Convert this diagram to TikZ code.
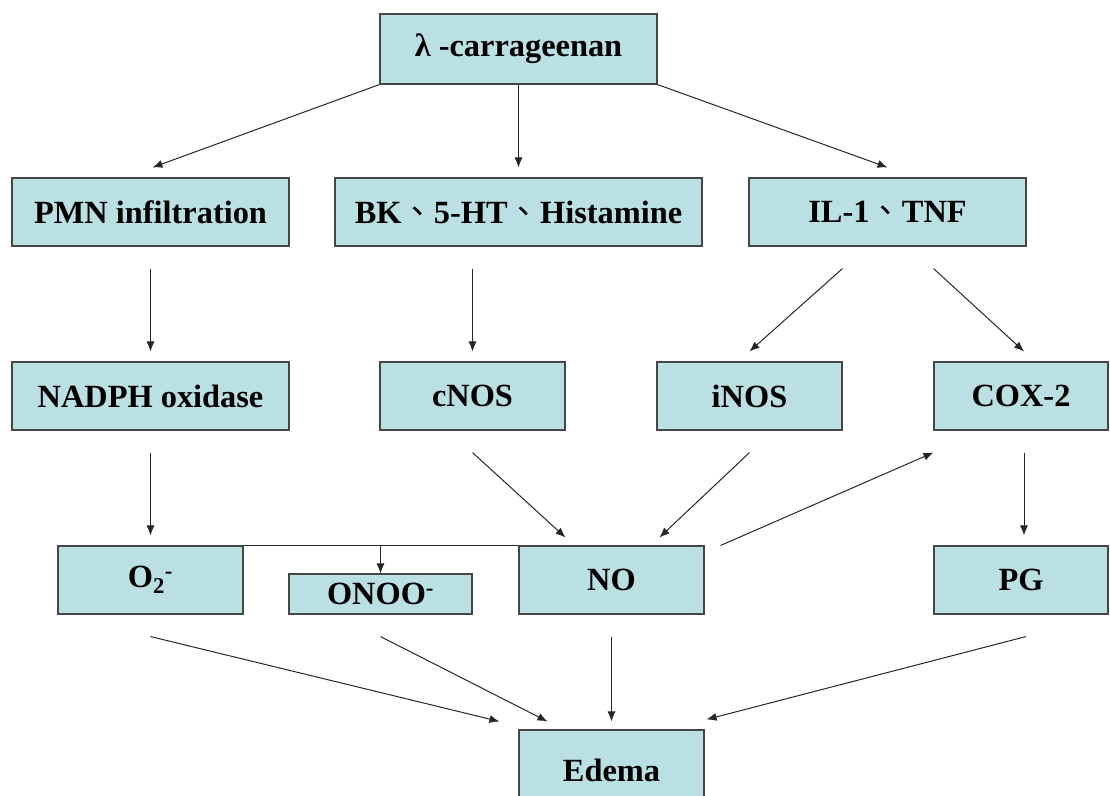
\documentclass[tikz,border=0pt]{standalone}
\usepackage{fontspec}
\setmainfont{Liberation Serif}
\newfontfamily\cjk{Noto Sans CJK TC}
\usepackage{tikz}
\usetikzlibrary{calc,arrows.meta,positioning}
\definecolor{boxfill}{RGB}{186,224,227}
\definecolor{boxline}{RGB}{70,70,70}
\newcommand{\dun}{{\cjk\mdseries 、}}

\begin{document}
\begin{tikzpicture}[>={Latex[length=10bp,width=8bp]},
	box/.style={draw=boxline,fill=boxfill,line width=1.1bp,inner sep=0pt,
		minimum height=68bp,font=\fontsize{32.5}{36}\selectfont\bfseries},
	wide/.style={box,minimum width=277bp},
	mid/.style={box,minimum width=185bp},
	arr/.style={->,line width=1bp,black!85}]
	\useasboundingbox (0bp,0bp) rectangle (1110bp,-796bp);

	\node (carr)  at (518.5bp,-49bp)  [wide,minimum height=70bp] {λ -carrageenan};
	\node (pmn)   at (150.5bp,-212bp) [wide]                     {PMN infiltration};
	\node (bk)    at (518.5bp,-212bp) [box,minimum width=367bp]  {BK\dun 5-HT\dun Histamine};
	\node (il)    at (887.5bp,-212bp) [wide]                     {IL-1\dun TNF};
	\node (nadph) at (150.5bp,-396bp) [wide]                     {NADPH oxidase};
	\node (cnos)  at (472.5bp,-396bp) [mid]                      {cNOS};
	\node (inos)  at (749.5bp,-396bp) [mid]                      {iNOS};
	\node (cox)   at (1021bp,-396bp)  [box,minimum width=174bp]  {COX-2};
	\node (otwo)  at (150.5bp,-580bp) [mid]                      {O\textsubscript{2}\textsuperscript{-}};
	\node (onoo)  at (380.5bp,-594bp) [box,minimum width=183bp,minimum height=40bp] {ONOO\textsuperscript{-}};
	\node (no)    at (611.5bp,-580bp) [mid]                      {NO};
	\node (pg)    at (1021bp,-580bp)  [box,minimum width=174bp]  {PG};
	\node (edema) at (611.5bp,-770bp) [mid,minimum height=80bp]  {Edema};

	\draw [arr] (carr.south west) -- ($(pmn.north)+(2bp,10bp)$);
	\draw [arr] (carr.south) -- ($(bk.north)+(0,10bp)$);
	\draw [arr] (carr.south east) -- ($(il.north)+(0,10bp)$);

	\draw [arr] ($(pmn.south)+(0,-22bp)$) -- ($(nadph.north)+(0,10bp)$);
	\draw [arr] ($(bk.south -| cnos.north)+(0,-22bp)$) -- ($(cnos.north)+(0,10bp)$);
	\draw [arr] ($(il.south)+(-45bp,-22bp)$) -- ($(inos.north)+(0,10bp)$);
	\draw [arr] ($(il.south)+(46bp,-22bp)$) -- ($(cox.north)+(3bp,10bp)$);

	\draw [arr] ($(nadph.south)+(0,-22bp)$) -- ($(otwo.north)+(0,10bp)$);
	\draw [arr] ($(cnos.south)+(0,-22bp)$) -- ($(no.north)+(-46bp,8bp)$);
	\draw [arr] ($(inos.south)+(0,-22bp)$) -- ($(no.north)+(48bp,8bp)$);
	\draw [arr] ($(no.north east)+(16bp,0)$) -- ($(cox.south west)+(0,-22bp)$);
	\draw [arr] ($(cox.south)+(3bp,-22bp)$) -- ($(pg.north)+(3bp,10bp)$);

	\draw [line width=1bp,black!85] (otwo.north east) -- (no.north west);
	\draw [arr] (onoo.north |- otwo.north) -- (onoo.north);

	\draw [arr] ($(otwo.south)+(0,-22bp)$) -- ($(edema.north west)+(-19bp,8bp)$);
	\draw [arr] ($(onoo.south)+(0,-22bp)$) -- ($(edema.north west)+(29bp,8bp)$);
	\draw [arr] ($(no.south)+(0,-22bp)$) -- ($(edema.north)+(0,8bp)$);
	\draw [arr] ($(pg.south)+(5bp,-22bp)$) -- ($(edema.north east)+(2bp,10bp)$);
\end{tikzpicture}
\end{document}
